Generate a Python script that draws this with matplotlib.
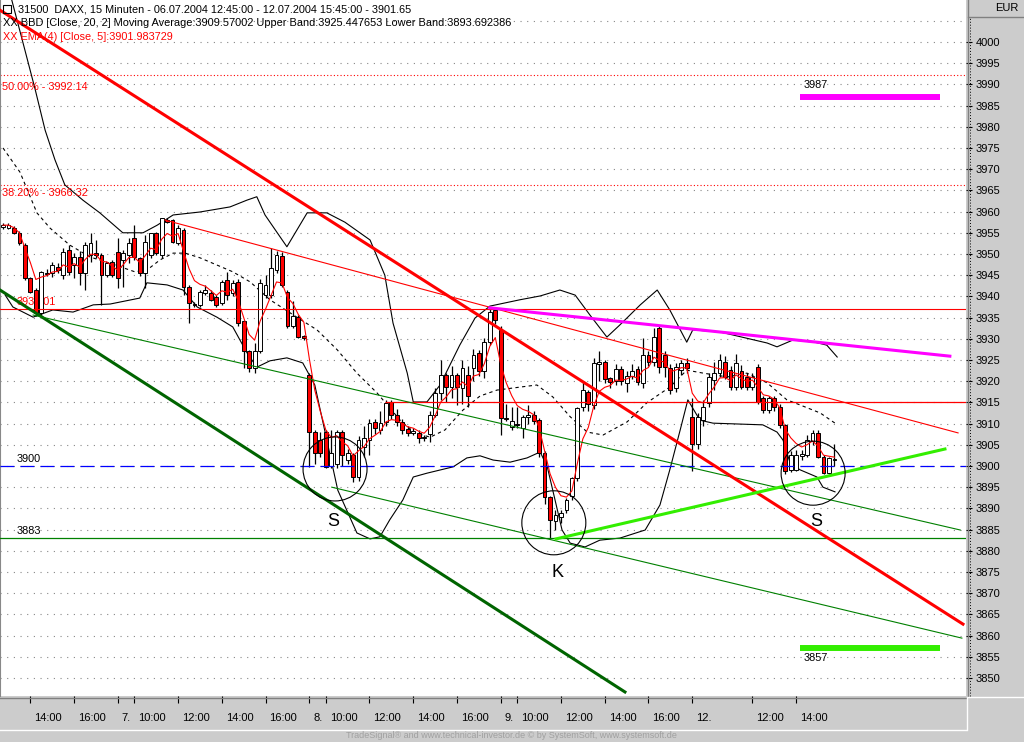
import numpy as np
import pandas as pd
import matplotlib
matplotlib.use('Agg')
import matplotlib.pyplot as plt
from matplotlib.patches import Ellipse, Rectangle
from matplotlib.lines import Line2D
from matplotlib.transforms import ScaledTranslation

plt.rcParams['font.family'] = ['Liberation Sans', 'DejaVu Sans']

# DAXX 15 min candles, 06.07.2004 12:45 - 12.07.2004 15:45
opens = [3956.3, 3956.1, 3956.1, 3955.0, 3952.1, 3944.3, 3941.5, 3936.0, 3945.3, 3945.4,
         3947.0, 3945.0, 3950.9, 3947.4, 3949.4, 3945.4, 3949.8, 3950.2, 3949.8, 3945.0,
         3948.2, 3950.5, 3948.6, 3949.8, 3953.7, 3949.0, 3945.4, 3949.8, 3954.9, 3949.8,
         3958.0, 3958.0, 3952.5, 3955.7, 3942.3, 3938.3, 3938.0, 3940.7, 3940.7, 3939.9,
         3938.4, 3943.9, 3940.7, 3943.5, 3934.1, 3927.0, 3923.0, 3927.0, 3940.3, 3940.3,
         3946.2, 3949.6, 3941.1, 3932.9, 3935.2, 3930.6, 3921.5, 3908.1, 3906.1, 3908.1,
         3899.9, 3900.5, 3908.1, 3901.4, 3902.6, 3897.3, 3904.5, 3906.1, 3910.3, 3908.5,
         3910.3, 3915.2, 3912.0, 3910.4, 3908.7, 3907.7, 3907.8, 3906.5, 3907.5, 3912.0,
         3917.1, 3921.5, 3918.7, 3921.5, 3918.3, 3921.5, 3923.0, 3926.6, 3922.3, 3929.3,
         3936.8, 3932.1, 3911.2, 3909.3, 3909.8, 3908.9, 3911.6, 3912.0, 3910.8, 3903.0,
         3892.8, 3887.0, 3888.0, 3889.6, 3893.0, 3897.1, 3914.0, 3917.5, 3914.4, 3924.0,
         3924.6, 3920.8, 3920.0, 3922.8, 3919.6, 3921.2, 3922.9, 3919.5, 3926.2, 3924.6,
         3932.5, 3926.2, 3923.2, 3918.3, 3922.6, 3924.3, 3911.6, 3905.3, 3910.8, 3914.8,
         3920.3, 3921.9, 3924.6, 3922.6, 3918.7, 3922.5, 3920.9, 3918.7, 3923.4, 3916.0,
         3913.2, 3916.0, 3914.0, 3909.7, 3899.1, 3899.1, 3902.4, 3902.6, 3905.9, 3907.7,
         3902.2, 3898.3, 3901.5]
highs = [3957.2, 3957.3, 3956.5, 3955.5, 3952.5, 3944.6, 3942.0, 3946.0, 3946.5, 3948.0,
         3947.8, 3951.5, 3952.0, 3950.3, 3950.6, 3952.9, 3954.9, 3953.3, 3950.2, 3948.2,
         3948.6, 3953.7, 3951.0, 3953.7, 3956.8, 3949.4, 3954.5, 3955.0, 3955.3, 3958.5,
         3958.4, 3958.3, 3956.8, 3956.1, 3942.7, 3938.6, 3941.5, 3942.7, 3941.5, 3940.3,
         3943.9, 3945.8, 3943.9, 3944.0, 3934.5, 3927.4, 3929.0, 3944.0, 3945.0, 3951.3,
         3950.8, 3950.5, 3941.5, 3939.0, 3935.6, 3931.0, 3922.0, 3908.5, 3908.0, 3908.5,
         3908.5, 3908.5, 3908.5, 3904.0, 3903.0, 3907.0, 3909.5, 3911.0, 3911.0, 3913.0,
         3915.6, 3915.6, 3913.5, 3911.0, 3909.5, 3909.0, 3908.5, 3907.3, 3913.0, 3918.5,
         3925.0, 3921.9, 3923.5, 3922.0, 3925.0, 3923.5, 3927.6, 3927.4, 3930.2, 3937.2,
         3937.5, 3933.0, 3914.5, 3914.0, 3914.0, 3912.0, 3914.3, 3913.0, 3911.3, 3903.5,
         3893.0, 3889.5, 3889.5, 3892.5, 3897.5, 3914.0, 3920.0, 3918.0, 3925.5, 3927.0,
         3925.0, 3921.0, 3924.0, 3923.5, 3922.5, 3924.0, 3923.5, 3930.1, 3927.0, 3932.5,
         3933.2, 3927.0, 3924.0, 3924.2, 3925.0, 3925.5, 3916.0, 3912.5, 3915.5, 3922.0,
         3924.6, 3926.5, 3926.0, 3923.5, 3926.5, 3923.8, 3922.0, 3922.0, 3924.0, 3916.5,
         3916.5, 3916.5, 3914.5, 3910.0, 3903.5, 3903.8, 3903.7, 3907.3, 3908.5, 3908.5,
         3902.6, 3902.2, 3905.3]
lows = [3955.9, 3955.8, 3954.8, 3952.2, 3943.8, 3940.8, 3935.4, 3935.3, 3944.8, 3944.5,
        3945.5, 3944.0, 3945.0, 3944.3, 3942.7, 3941.5, 3948.0, 3949.0, 3938.0, 3944.6,
        3944.5, 3941.9, 3942.3, 3947.8, 3948.6, 3944.7, 3941.9, 3949.0, 3949.8, 3949.0,
        3957.3, 3952.5, 3952.0, 3940.3, 3933.7, 3937.6, 3937.6, 3940.3, 3938.8, 3937.6,
        3938.0, 3939.2, 3940.0, 3933.0, 3923.0, 3922.2, 3922.0, 3926.6, 3939.5, 3939.5,
        3945.5, 3942.3, 3932.5, 3932.5, 3930.1, 3929.8, 3899.8, 3900.5, 3902.0, 3899.5,
        3899.5, 3899.5, 3900.0, 3900.5, 3896.3, 3896.4, 3902.0, 3902.5, 3907.5, 3907.5,
        3909.5, 3911.0, 3909.5, 3907.5, 3907.0, 3907.3, 3905.5, 3906.0, 3905.7, 3911.5,
        3915.5, 3915.0, 3916.0, 3914.3, 3914.5, 3914.0, 3920.0, 3921.2, 3920.8, 3928.5,
        3933.5, 3907.3, 3910.5, 3908.5, 3909.0, 3906.5, 3910.0, 3910.0, 3902.0, 3891.0,
        3882.9, 3884.8, 3886.5, 3889.0, 3892.0, 3896.5, 3913.0, 3913.0, 3913.5, 3920.0,
        3919.5, 3918.5, 3919.0, 3919.0, 3917.5, 3920.5, 3919.0, 3918.5, 3923.5, 3923.5,
        3922.0, 3921.0, 3917.0, 3917.5, 3921.5, 3922.0, 3898.7, 3904.0, 3909.5, 3914.0,
        3918.0, 3921.0, 3920.5, 3918.0, 3918.0, 3918.2, 3918.0, 3918.0, 3914.5, 3912.5,
        3912.5, 3913.0, 3909.0, 3898.2, 3898.5, 3898.8, 3901.5, 3902.0, 3905.0, 3901.8,
        3898.0, 3898.0, 3900.0]
closes = [3956.8, 3956.8, 3955.0, 3952.5, 3944.3, 3941.1, 3936.0, 3945.7, 3945.6, 3947.4,
          3946.2, 3950.5, 3945.8, 3949.4, 3945.4, 3952.1, 3952.5, 3949.8, 3945.0, 3947.8,
          3945.0, 3944.3, 3950.2, 3952.5, 3949.4, 3945.4, 3952.9, 3954.9, 3950.2, 3958.4,
          3957.6, 3952.9, 3956.1, 3942.3, 3938.4, 3938.0, 3941.1, 3941.5, 3939.2, 3938.0,
          3943.5, 3940.3, 3943.1, 3933.7, 3927.0, 3923.0, 3927.0, 3943.1, 3942.7, 3946.6,
          3949.8, 3942.7, 3932.9, 3935.4, 3930.5, 3930.3, 3908.1, 3903.0, 3903.0, 3899.8,
          3903.0, 3908.1, 3902.7, 3903.0, 3897.5, 3906.1, 3906.5, 3910.1, 3908.9, 3910.1,
          3914.8, 3912.0, 3910.4, 3908.5, 3907.7, 3908.3, 3906.7, 3906.8, 3912.0, 3917.1,
          3921.5, 3918.7, 3921.5, 3918.7, 3923.0, 3916.5, 3926.2, 3922.3, 3929.3, 3936.4,
          3934.4, 3911.2, 3911.0, 3910.5, 3909.6, 3911.6, 3912.0, 3910.5, 3903.0, 3892.8,
          3887.3, 3888.5, 3889.0, 3892.0, 3897.1, 3913.6, 3917.9, 3914.5, 3924.2, 3924.5,
          3920.5, 3919.8, 3922.8, 3920.0, 3921.2, 3922.5, 3919.8, 3926.2, 3924.6, 3930.5,
          3923.4, 3923.4, 3917.9, 3923.4, 3924.3, 3923.0, 3905.3, 3911.6, 3914.0, 3921.1,
          3921.9, 3925.0, 3921.1, 3918.7, 3924.2, 3918.7, 3918.7, 3920.9, 3915.2, 3913.2,
          3916.0, 3914.0, 3909.7, 3898.7, 3902.6, 3902.6, 3902.8, 3906.1, 3907.7, 3902.2,
          3898.3, 3901.8, 3901.65]

# Bollinger band (20, 2), x = bar number
bb_up_x = [1.2, 1.6, 4.0, 5.9, 7.7, 9.5, 11.3, 14.6, 17.7, 21.9, 25.6, 28.2, 31.1, 36.0, 41.5,
           44.6, 46.4, 47.9, 51.9, 55.6, 59.2, 62.5, 67.1, 69.8, 71.3, 73.9, 75.0, 77.5, 79.9,
           83.5, 86.3, 89.0, 94.5, 98.2, 101.8, 104.6, 107.3, 110.4, 112.8, 116.5, 119.6,
           121.9, 125.0, 126.1, 131.1, 139.7, 141.5, 144.4, 148.4, 150.6, 152.5]
bb_up_y = [4012.0, 4009.9, 3998.1, 3988.7, 3979.2, 3972.2, 3966.3, 3962.7, 3959.7, 3955.0,
           3955.0, 3956.8, 3959.2, 3959.9, 3961.1, 3962.7, 3963.5, 3959.2, 3951.7, 3959.7,
           3959.7, 3957.5, 3953.3, 3945.0, 3933.7, 3921.9, 3915.1, 3915.1, 3919.1, 3928.5,
           3934.9, 3937.7, 3939.2, 3940.1, 3941.5, 3940.3, 3935.6, 3930.4, 3933.3, 3938.0,
           3941.5, 3936.8, 3929.2, 3932.1, 3931.6, 3929.0, 3928.1, 3929.7, 3929.2, 3928.5,
           3925.7]
bb_mid_x = [0.0, 3.1, 6.2, 8.6, 12.2, 15.9, 20.5, 24.1, 26.3, 28.7, 31.1, 33.3, 36.0, 42.0,
            45.2, 48.8, 53.7, 57.4, 61.1, 64.7, 68.4, 72.6, 75.3, 78.1, 80.8, 84.1, 87.2,
            90.3, 94.5, 97.6, 100.5, 103.7, 106.8, 109.7, 114.1, 117.7, 121.9, 125.0, 128.0,
            132.4, 136.0, 139.7, 143.3, 145.7, 149.4, 152.1]
bb_mid_y = [3975.0, 3969.3, 3959.7, 3956.1, 3952.1, 3949.3, 3947.4, 3945.8, 3946.2, 3948.6,
            3950.2, 3950.2, 3949.1, 3945.8, 3943.4, 3939.2, 3935.1, 3932.1, 3927.4, 3921.9,
            3917.2, 3910.8, 3907.8, 3906.8, 3908.5, 3913.2, 3916.5, 3917.9, 3918.6, 3919.1,
            3916.3, 3911.6, 3908.0, 3907.3, 3910.4, 3914.9, 3918.6, 3922.6, 3921.9, 3921.0,
            3921.9, 3919.6, 3915.6, 3914.4, 3912.5, 3910.1]
bb_low_x = [0.4, 1.8, 5.5, 9.1, 12.8, 16.5, 19.6, 25.0, 26.3, 30.0, 32.9, 35.5, 39.1, 42.0,
            44.6, 46.4, 48.8, 51.9, 54.8, 57.0, 61.2, 64.7, 67.1, 68.9, 70.7, 73.1, 75.0,
            77.5, 82.3, 84.8, 87.2, 89.6, 92.7, 95.8, 98.2, 99.5, 100.5, 102.2, 103.7, 106.4,
            109.1, 112.8, 117.4, 120.1, 121.9, 123.8, 125.2, 127.4, 129.8, 138.9, 141.5,
            142.6, 143.9, 145.7, 148.8, 149.9, 152.1]
bb_low_y = [3940.3, 3937.5, 3935.1, 3936.8, 3936.3, 3938.0, 3938.2, 3939.6, 3943.2, 3942.7,
            3941.5, 3937.5, 3935.1, 3932.8, 3926.7, 3923.3, 3924.8, 3925.5, 3924.3, 3919.1,
            3894.3, 3884.2, 3882.8, 3883.3, 3887.3, 3892.0, 3897.4, 3898.3, 3899.8, 3901.9,
            3902.4, 3901.4, 3900.9, 3901.9, 3903.3, 3899.8, 3894.3, 3884.9, 3881.8, 3880.9,
            3882.5, 3883.0, 3884.9, 3890.8, 3899.1, 3908.5, 3915.6, 3910.8, 3910.1, 3909.7,
            3908.0, 3906.1, 3900.7, 3899.1, 3897.4, 3895.0, 3893.9]

# drawn trend lines (bar, price) end points
red_thick_x = [-0.55, 175.5]
red_thick_y = [4007.5, 3862.7]
red_thin_x = [29.6, 174.6]
red_thin_y = [3958.0, 3907.8]
magenta_x = [89.0, 173.1]
magenta_y = [3937.3, 3925.9]
dkgreen_x = [-0.55, 113.7]
dkgreen_y = [3941.5, 3846.7]
green_a_x = [5.5, 175.0]
green_a_y = [3935.6, 3884.9]
green_b_x = [60.1, 175.3]
green_b_y = [3895.0, 3859.4]
lime_x = [101.1, 172.2]
lime_y = [3882.8, 3904.0]
target_x = [145.7, 171.3]
target_up = 3987
target_dn = 3857
res_3915_start = 69.8

# S-K-S circles and letters
circ_x = [60.7, 100.7, 148.1]
circ_y = [3899.3, 3886.6, 3898.3]
sks_x = [60.3, 101.3, 148.6]
sks_y = [3886.8, 3874.8, 3887.0]
sks_txt = ['S', 'K', 'S']

tick_pos = [5, 13, 21, 24, 32, 40, 48, 56, 59, 67, 75, 83, 91, 94, 102, 110, 118, 126, 137, 145]
tick_lbl = ['14:00', '16:00', '7.', '10:00', '12:00', '14:00', '16:00', '8.', '10:00', '12:00',
            '14:00', '16:00', '9.', '10:00', '12:00', '14:00', '16:00', '12.', '12:00', '14:00']

W, H = 1024, 742
fig = plt.figure(figsize=(W / 100, H / 100), dpi=100, facecolor='#cccccc')
ax = fig.add_axes([0, 46 / H, 966 / W, 696 / H])
ax.set_facecolor('white')
ax.set_xlim(-0.55, 176.05)
ax.set_ylim(3845.75, 4009.9)

# dotted price grid
for lvl in np.arange(3850, 4006, 5):
    ax.axhline(lvl, color='#888888', linestyle=(0, (1, 5)), linewidth=0.8, zorder=0)

# fibo levels
ax.axhline(3992.14, color='red', linestyle=(0, (1, 2)), linewidth=0.8, zorder=1)
ax.axhline(3966.32, color='red', linestyle=(0, (1, 2)), linewidth=0.8, zorder=1)

# bollinger band
ax.plot(bb_up_x, bb_up_y, color='black', linewidth=0.8, zorder=2)
ax.plot(bb_low_x, bb_low_y, color='black', linewidth=0.8, zorder=2)
ax.plot(bb_mid_x, bb_mid_y, color='black', linewidth=0.8, linestyle=(0, (3, 3)), zorder=2)

# candles
x = np.arange(len(closes))
o = np.array(opens)
c = np.array(closes)
body_col = ['white' if cc >= oo else '#ff0000' for oo, cc in zip(o, c)]
ax.vlines(x, lows, highs, color='black', linewidth=0.9, zorder=3)
ax.bar(x, np.maximum(np.abs(c - o), 0.15), bottom=np.minimum(o, c), width=0.7,
       color=body_col, edgecolor='black', linewidth=0.7, zorder=4)

# EMA 5
ema = pd.Series(closes).ewm(span=5, adjust=False).mean()
ax.plot(x, ema, color='red', linewidth=0.8, zorder=5)

# horizontal levels
ax.axhline(3937.01, color='red', linewidth=0.8, zorder=5)
ax.hlines(3915, res_3915_start, 176.05, color='red', linewidth=0.9, zorder=5)
ax.axhline(3900, color='#0000ff', linewidth=0.9, linestyle=(0, (11, 5)), zorder=5)
ax.axhline(3883, color='#008000', linewidth=0.9, zorder=5)

# trend lines
ax.plot(dkgreen_x, dkgreen_y, color='#006400', linewidth=2.2, zorder=6)
ax.plot(green_a_x, green_a_y, color='#008000', linewidth=0.8, zorder=6)
ax.plot(green_b_x, green_b_y, color='#008000', linewidth=0.8, zorder=6)
ax.plot(red_thin_x, red_thin_y, color='red', linewidth=0.8, zorder=6)
ax.plot(red_thick_x, red_thick_y, color='red', linewidth=2.2, zorder=6)
ax.plot(magenta_x, magenta_y, color='#ff00ff', linewidth=2.2, zorder=6)
ax.plot(lime_x, lime_y, color='#33ee00', linewidth=2.2, zorder=6)
ax.hlines(target_up, target_x[0], target_x[1], color='#ff00ff', linewidth=4.3, zorder=6)
ax.hlines(target_dn, target_x[0], target_x[1], color='#33ee00', linewidth=4.3, zorder=6)

for cx, cy in zip(circ_x, circ_y):
    ax.add_patch(Ellipse((cx, cy), width=11.7, height=15.1, fill=False, edgecolor='black',
                         linewidth=0.8, zorder=7))
for sx, sy, st in zip(sks_x, sks_y, sks_txt):
    ax.text(sx, sy, st, fontsize=13, ha='center', va='center', zorder=7)

# level labels
tr = ax.get_yaxis_transform()
ax.text(0.002, 3989.4, '50.00% - 3992.14', color='red', fontsize=7.8, va='center', transform=tr)
ax.text(0.002, 3964.4, '38.20% - 3966.32', color='red', fontsize=7.8, va='center', transform=tr)
ax.text(0.0176, 3938.7, '3937.01', color='red', fontsize=7.8, va='center', transform=tr, zorder=2)
ax.text(0.0176, 3901.65, '3900', fontsize=7.8, va='center', transform=tr)
ax.text(0.0176, 3884.7, '3883', fontsize=7.8, va='center', transform=tr)
ax.text(146.3, 3989.9, '3987', fontsize=7.8, va='center')
ax.text(146.3, 3854.7, '3857', fontsize=7.8, va='center')

# axes
ax.yaxis.tick_right()
ax.set_yticks(np.arange(3850, 4001, 5))
ax.tick_params(axis='y', direction='out', length=4, width=0.8, pad=3, labelsize=8)
ax.set_xticks(tick_pos)
ax.set_xticklabels(tick_lbl)
ax.tick_params(axis='x', direction='out', length=5, width=0.8, pad=7, labelsize=8)
for lbl in ax.get_xticklabels():
    lbl.set_horizontalalignment('left')
    lbl.set_transform(lbl.get_transform() + ScaledTranslation(4 / 100, 0, fig.dpi_scale_trans))
for side in ['top', 'right', 'bottom']:
    ax.spines[side].set_visible(False)
ax.spines['left'].set_color('#888888')

# panel borders
ft = fig.transFigure
fig.add_artist(Line2D([0, 966 / W], [1 - 697.5 / H] * 2, color='#808080', linewidth=1, transform=ft))
fig.add_artist(Line2D([0, 966 / W], [1 - 729.5 / H] * 2, color='white', linewidth=1, transform=ft))
fig.add_artist(Line2D([966.5 / W] * 2, [1 - 729.5 / H, 1 - 697 / H], color='white', linewidth=1, transform=ft))
fig.add_artist(Line2D([967.5 / W] * 2, [1 - 696 / H, 1], color='#808080', linewidth=1, transform=ft))
fig.add_artist(Line2D([969.5 / W] * 2, [1 - 696 / H, 1 - 17 / H], color='black', linewidth=0.7,
                      linestyle=(0, (1, 2)), transform=ft))
fig.add_artist(Line2D([968 / W, 1], [1 - 17 / H] * 2, color='#808080', linewidth=1, transform=ft))
fig.add_artist(Line2D([968 / W, 1], [1 - 696.5 / H] * 2, color='white', linewidth=1, transform=ft))
fig.add_artist(Rectangle((3 / W, 1 - 13 / H), 8 / W, 8 / H, fill=False, edgecolor='black',
                         linewidth=0.8, transform=ft))

# header
fig.text(18 / W, 1 - 9 / H, '31500  DAXX, 15 Minuten - 06.07.2004 12:45:00 - 12.07.2004 15:45:00 - 3901.65',
         fontsize=7.8, va='center')
fig.text(3 / W, 1 - 23 / H, 'XX BBD [Close, 20, 2] Moving Average:3909.57002 Upper Band:3925.447653 Lower Band:3893.692386',
         fontsize=7.9, va='center')
fig.text(3 / W, 1 - 37 / H, 'XX EMA(4) [Close, 5]:3901.983729', color='red', fontsize=7.8, va='center')
fig.text(1019 / W, 1 - 8 / H, 'EUR', fontsize=8, ha='right', va='center')
fig.text(511 / W, 1 - 736 / H, 'TradeSignal® and www.technical-investor.de © by SystemSoft, www.systemsoft.de',
         color='#a0a0a0', fontsize=6.5, ha='center', va='center')

plt.savefig('out.png', dpi=100, facecolor=fig.get_facecolor())
